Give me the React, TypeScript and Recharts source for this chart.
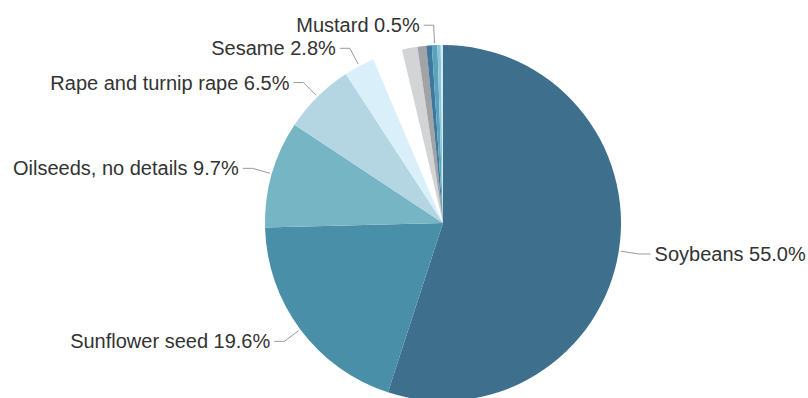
import { PieChart, Pie, Cell } from "recharts";

// share of oilseed imports, % (unlabelled slices carry an empty name)
const names = [
  "Soybeans",
  "Sunflower seed",
  "Oilseeds, no details",
  "Rape and turnip rape",
  "Sesame",
  "",
  "",
  "",
  "",
  "Mustard",
  "",
  "",
];
const values = [55.0, 19.6, 9.7, 6.5, 2.8, 2.7, 1.4, 0.8, 0.5, 0.5, 0.3, 0.2];

const COLORS = [
  "#3e6f8c",
  "#4a8fa8",
  "#75b5c4",
  "#b4d6e2",
  "#d9eff9",
  "#ffffff",
  "#d3d4d6",
  "#a2a3a7",
  "#3f789c",
  "#5aa3be",
  "#8cc6d6",
  "#d2ebf3",
];

const data = names.map((name, i) => ({ name, value: values[i] }));

const RAD = Math.PI / 180;

function renderLabel(props: any) {
  const { cx, cy, midAngle, outerRadius, name, value } = props;
  if (!name) return null;
  const cos = Math.cos(-midAngle * RAD);
  const sin = Math.sin(-midAngle * RAD);
  const sx = cx + (outerRadius + 2) * cos;
  const sy = cy + (outerRadius + 2) * sin;
  const mx = cx + (outerRadius + 20) * cos;
  const my = cy + (outerRadius + 20) * sin;
  const right = cos >= 0;
  const ex = mx + (right ? 12 : -10);
  const ey = my;
  return (
    <g>
      <path
        d={`M${sx},${sy}L${mx},${my}L${ex},${ey}`}
        stroke="#9a9a9a"
        strokeWidth={1}
        fill="none"
      />
      <text
        x={ex + (right ? 4 : -4)}
        y={ey}
        textAnchor={right ? "start" : "end"}
        dominantBaseline="central"
        fill="#333333"
        fontSize={20}
        fontFamily="'Liberation Sans', Arial, sans-serif"
      >
        {`${name} ${value.toFixed(1)}%`}
      </text>
    </g>
  );
}

export default function App() {
  return (
    <div style={{ position: "absolute", left: 0, top: 0, width: 808, height: 398, background: "#fff" }}>
      <PieChart width={808} height={398} margin={{ top: 0, right: 0, bottom: 0, left: 0 }}>
        <Pie
          data={data}
          dataKey="value"
          nameKey="name"
          cx={443}
          cy={223}
          outerRadius={178}
          startAngle={90}
          endAngle={-270}
          stroke="none"
          label={renderLabel}
          labelLine={false}
          isAnimationActive={false}
        >
          {data.map((d, i) => (
            <Cell key={i} fill={COLORS[i]} />
          ))}
        </Pie>
      </PieChart>
    </div>
  );
}
